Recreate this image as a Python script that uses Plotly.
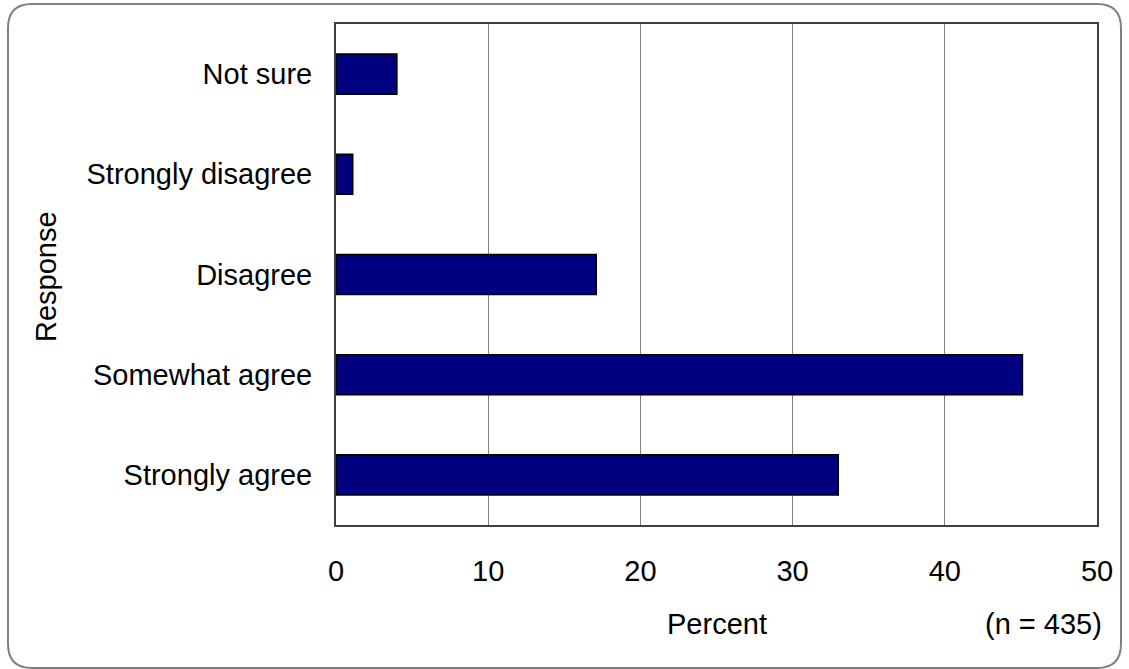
import plotly.graph_objects as go

# Data (bottom to top)
categories = ["Strongly agree", "Somewhat agree", "Disagree", "Strongly disagree", "Not sure"]
percent = [33.0, 45.1, 17.1, 1.1, 4.0]
x_ticks = [0, 10, 20, 30, 40, 50]

W, H = 1129, 669
L, R, T, B = 336, 32, 24, 144
PW, PH = W - L - R, H - T - B


def px_x(px):
    return (px - L) / PW


def px_y(py):
    return (H - B - py) / PH


FONT = "Liberation Sans, Arial, sans-serif"

fig = go.Figure()
fig.add_trace(go.Bar(
    x=percent, y=categories, orientation="h",
    marker=dict(color="#000080", line=dict(color="#000000", width=1.5)),
    hoverinfo="x+y",
))

# outer rounded frame
x0, y0, x1, y1, r = 8, 4, 1121, 668, 24
path = (
    f"M {px_x(x0 + r)} {px_y(y0)} L {px_x(x1 - r)} {px_y(y0)} "
    f"Q {px_x(x1)} {px_y(y0)} {px_x(x1)} {px_y(y0 + r)} "
    f"L {px_x(x1)} {px_y(y1 - r)} "
    f"Q {px_x(x1)} {px_y(y1)} {px_x(x1 - r)} {px_y(y1)} "
    f"L {px_x(x0 + r)} {px_y(y1)} "
    f"Q {px_x(x0)} {px_y(y1)} {px_x(x0)} {px_y(y1 - r)} "
    f"L {px_x(x0)} {px_y(y0 + r)} "
    f"Q {px_x(x0)} {px_y(y0)} {px_x(x0 + r)} {px_y(y0)} Z"
)

fig.update_layout(
    width=W, height=H,
    margin=dict(l=L, r=R, t=T, b=B, pad=0),
    paper_bgcolor="white", plot_bgcolor="white",
    font=dict(family=FONT, size=29, color="#000000"),
    bargap=0.6,
    showlegend=False,
    shapes=[dict(type="path", xref="paper", yref="paper", path=path,
                 line=dict(color="#808080", width=2), layer="below")],
    annotations=[
        dict(text="Percent", x=0.5, y=px_y(624), xref="paper", yref="paper",
             xanchor="center", yanchor="middle", showarrow=False,
             font=dict(family=FONT, size=29)),
        dict(text="(n = 435)", x=px_x(1104), y=px_y(624), xref="paper", yref="paper",
             xanchor="right", yanchor="middle", showarrow=False,
             font=dict(family=FONT, size=29)),
        dict(text="Response", x=px_x(46), y=px_y(277), xref="paper", yref="paper",
             xanchor="center", yanchor="middle", showarrow=False, textangle=-90,
             font=dict(family=FONT, size=29)),
    ],
)

fig.update_xaxes(
    range=[0, 50], tickvals=x_ticks, ticktext=[str(v) for v in x_ticks],
    showgrid=True, gridcolor="#808080", gridwidth=1,
    showline=True, linecolor="#404040", linewidth=2, mirror=True,
    ticks="outside", ticklen=19, tickcolor="rgba(0,0,0,0)",
    zeroline=False, fixedrange=True,
)
fig.update_yaxes(
    categoryorder="array", categoryarray=categories,
    showgrid=False,
    showline=True, linecolor="#404040", linewidth=2, mirror=True,
    ticks="outside", ticklen=16, tickcolor="rgba(0,0,0,0)",
    fixedrange=True,
)

fig.write_html("out.html", config={"displayModeBar": False},
               post_script="document.body.style.margin='0';")
